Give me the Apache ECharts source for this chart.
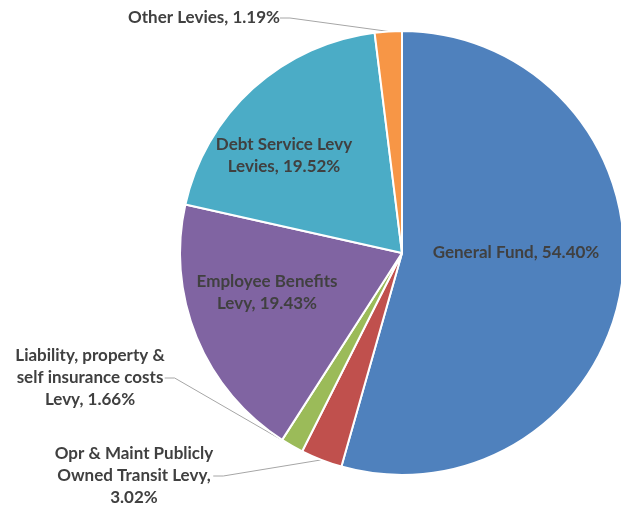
<!DOCTYPE html>
<html lang="en">
<head>
    <meta charset="UTF-8">
    <title>levies pie</title>
    <script src="https://cdn.jsdelivr.net/npm/echarts@6/dist/echarts.min.js"></script>
    <style>
        html, body { margin: 0; padding: 0; background: #fff; }
        #main { width: 621px; height: 506px; }
    </style>
</head>
<body>
    <div id="main"></div>
</body>
<script type="application/javascript">

    // slice names (label text, with line breaks as in the chart)
    var names = [
        'General Fund',
        'Opr & Maint Publicly\nOwned Transit Levy,\n',
        'Liability, property &\nself insurance costs\nLevy',
        'Employee Benefits\nLevy',
        'Debt Service Levy\nLevies',
        'Other Levies'
    ];
    // slice sizes (percent, as drawn - the orange slice is ~2%)
    var values = [54.40, 3.02, 1.66, 19.43, 19.52, 1.97];
    // percent text printed in the labels
    var pctLabels = ['54.40%', '3.02%', '1.66%', '19.43%', '19.52%', '1.19%'];
    var colors = ['#4F81BD', '#C0504D', '#9BBB59', '#8064A2', '#4BACC6', '#F79646'];
    // where each label sits (center of text block)
    var labelPos = [[516, 253], [134, 476], [90, 378], [267, 293], [284, 156], [204, 18]];

    var data = [];
    for (var i = 0; i < values.length; i++) {
        data.push({
            name: names[i],
            value: values[i],
            itemStyle: { color: colors[i] }
        });
    }

    var chart = echarts.init(document.getElementById('main'));
    var option = {
        animation: false,
        series: [
            {
                type: 'pie',
                center: [402, 253],
                radius: 222,
                startAngle: 90,
                clockwise: true,
                avoidLabelOverlap: false,
                itemStyle: {
                    borderColor: '#fff',
                    borderWidth: 2
                },
                label: {
                    show: true,
                    position: 'outside',
                    color: '#404040',
                    fontFamily: 'Lato',
                    fontWeight: 'bold',
                    fontSize: 17,
                    lineHeight: 22,
                    align: 'center',
                    formatter: function (p) {
                        var sep = p.name.charAt(p.name.length - 1) === '\n' ? '' : ', ';
                        return p.name + sep + pctLabels[p.dataIndex];
                    }
                },
                labelLine: {
                    show: true,
                    length: 10,
                    length2: 10,
                    lineStyle: { color: '#A6A6A6', width: 1 }
                },
                labelLayout: function (params) {
                    var pos = labelPos[params.dataIndex];
                    return {
                        x: pos[0],
                        y: pos[1],
                        align: 'center',
                        verticalAlign: 'middle'
                    };
                },
                data: data
            }
        ]
    };
    chart.setOption(option);
</script>
</html>
